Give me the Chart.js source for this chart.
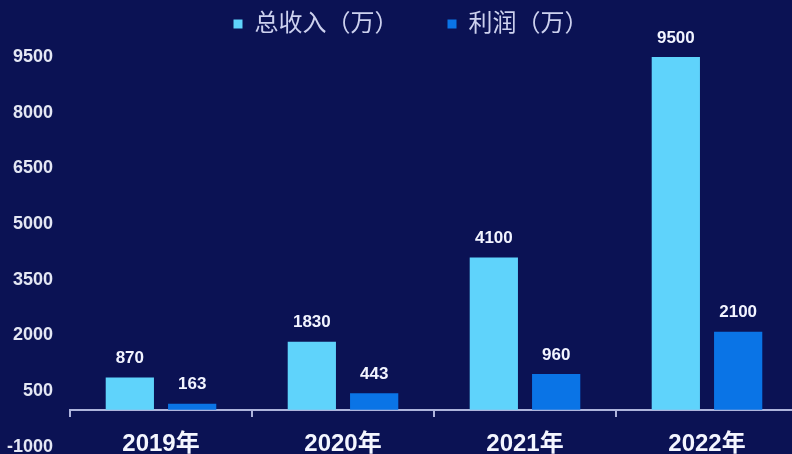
<!DOCTYPE html>
<html>
<head>
<meta charset="utf-8">
<script src="https://cdn.jsdelivr.net/npm/chart.js@4"></script>
<style>
  html, body { margin: 0; padding: 0; background: #0b1254; overflow: hidden; }
  #wrap { width: 798px; height: 454px; position: relative; }
</style>
</head>
<body>
<div id="wrap"><canvas id="c"></canvas></div>
<script>
// ---- data ----
const categories = ['2019年', '2020年', '2021年', '2022年'];
const seriesNames = ['总收入（万）', '利润（万）'];
const revenue = [870, 1830, 4100, 9500];
const profit = [163, 443, 960, 2100];
const yTicks = [-1000, 500, 2000, 3500, 5000, 6500, 8000, 9500];

const BG = '#0b1254';
const LIGHT = '#5fd3fb';
const DARK = '#0a74e6';
const AXIS = '#aeb4dc';
const FONT = '"Liberation Sans", Arial, "Noto Sans CJK SC", sans-serif';

const bgPlugin = {
  id: 'bg',
  beforeDraw(chart) {
    const ctx = chart.ctx;
    ctx.save();
    ctx.fillStyle = BG;
    ctx.fillRect(0, 0, chart.width, chart.height);
    ctx.restore();
  }
};

const legendSpace = {
  id: 'legendSpace',
  beforeLayout(chart) {
    const lg = chart.legend;
    if (lg && !lg._patched) {
      const fit = lg.fit;
      lg.fit = function () { fit.call(this); this.height += 11; };
      lg._patched = true;
    }
  },
  afterLayout(chart) {
    const lg = chart.legend;
    if (lg) { lg.left += 12; lg.right += 12; }
  }
};

const valueLabels = {
  id: 'valueLabels',
  afterDatasetsDraw(chart) {
    const ctx = chart.ctx;
    ctx.save();
    ctx.font = 'bold 17px ' + FONT;
    ctx.fillStyle = '#f2f4ff';
    ctx.textAlign = 'center';
    ctx.textBaseline = 'middle';
    chart.data.datasets.forEach((ds, i) => {
      const meta = chart.getDatasetMeta(i);
      meta.data.forEach((el, j) => {
        ctx.fillText(String(ds.data[j]), el.x, el.y - 19);
      });
    });
    ctx.restore();
  }
};

new Chart(document.getElementById('c'), {
  type: 'bar',
  data: {
    labels: categories,
    datasets: [
      { label: seriesNames[0], data: revenue, backgroundColor: LIGHT, categoryPercentage: 0.685, barPercentage: 0.774 },
      { label: seriesNames[1], data: profit, backgroundColor: DARK, categoryPercentage: 0.685, barPercentage: 0.774 }
    ]
  },
  options: {
    responsive: true,
    maintainAspectRatio: false,
    animation: false,
    layout: { padding: { left: 0, top: -37, right: 0, bottom: 0 } },
    plugins: {
      legend: {
        position: 'top',
        labels: {
          boxWidth: 9, boxHeight: 9, padding: 49,
          color: '#cdd1ee',
          font: { size: 24, family: FONT }
        }
      },
      tooltip: { enabled: false }
    },
    scales: {
      x: {
        position: { y: 0 },
        offset: true,
        grid: { display: true, drawOnChartArea: false, drawTicks: true, tickLength: 6, color: AXIS, lineWidth: 2, offset: true },
        border: { display: true, color: AXIS, width: 2 },
        ticks: { color: '#f4f6ff', font: { size: 24, weight: 'bold', family: FONT }, padding: 14 }
      },
      y: {
        min: yTicks[0],
        max: yTicks[yTicks.length - 1],
        afterBuildTicks(scale) { scale.ticks = yTicks.map(v => ({ value: v })); },
        afterFit(scale) { scale.width = 70; },
        grid: { display: false, drawTicks: true, tickLength: 17 },
        border: { display: false },
        ticks: {
          color: '#e4e7f4',
          padding: 0,
          font: { size: 18, weight: 'bold', family: FONT, lineHeight: 0.8 },
          callback: (v) => String(v)
        }
      }
    }
  },
  plugins: [bgPlugin, legendSpace, valueLabels]
});
</script>
</body>
</html>
